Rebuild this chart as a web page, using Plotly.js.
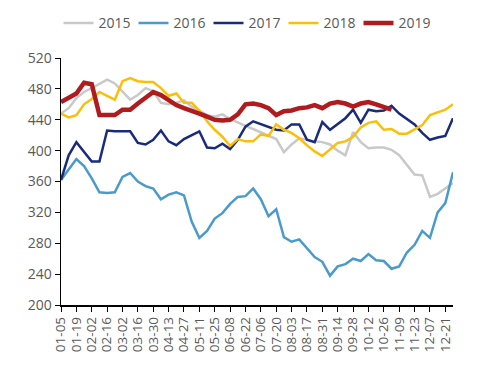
<!DOCTYPE html>
<html>
<head>
<meta charset="utf-8">
<script src="https://cdn.plot.ly/plotly-3.0.1.min.js"></script>
<style>html,body{margin:0;padding:0;background:#fff;}#chart{width:492px;height:368px;}</style>
</head>
<body>
<div id="chart"></div>
<script>
// Weekly dates (MM-DD)
var weeks = ["01-05","01-12","01-19","01-26","02-02","02-09","02-16","02-23","03-02","03-09",
  "03-16","03-23","03-30","04-06","04-13","04-20","04-27","05-04","05-11","05-18",
  "05-25","06-01","06-08","06-15","06-22","06-29","07-06","07-13","07-20","07-27",
  "08-03","08-10","08-17","08-24","08-31","09-07","09-14","09-21","09-28","10-05",
  "10-12","10-19","10-26","11-02","11-09","11-16","11-23","11-30","12-07","12-14",
  "12-21","12-28"];
var tickLabels = ["01-05","01-19","02-02","02-16","03-02","03-16","03-30","04-13","04-27","05-11",
  "05-25","06-08","06-22","07-06","07-20","08-03","08-17","08-31","09-14","09-28",
  "10-12","10-26","11-09","11-23","12-07","12-21"];
var yTicks = [200,240,280,320,360,400,440,480,520];

var s2015 = [448,455,468,476,481,486,492,487,476,466,472,481,477,462,460,462,465,457,452,446,
  444,447,441,436,432,428,424,420,415,398,408,416,414,412,411,408,400,394,424,411,
  403,404,404,401,394,381,369,368,340,344,351,358];
var s2016 = [362,376,389,380,364,346,345,346,366,371,360,354,351,337,343,346,342,308,287,296,
  312,319,331,340,341,351,337,315,324,288,282,285,274,262,256,238,250,253,260,257,
  266,258,257,247,250,268,278,296,287,320,332,372];
var s2017 = [362,394,411,399,386,386,426,425,425,425,410,408,414,426,412,407,415,420,425,404,
  403,409,402,414,431,438,434,430,427,426,434,434,414,411,437,427,435,442,453,436,
  453,451,452,458,448,441,434,423,414,417,419,442];
var s2018 = [448,443,446,460,467,476,471,466,490,494,490,489,489,481,471,474,462,462,452,438,
  427,418,406,415,412,412,421,419,434,427,423,416,407,399,393,402,410,412,418,430,
  436,438,427,428,422,422,427,433,446,450,453,460];
var s2019 = [463,468,474,488,486,446,446,446,453,453,461,469,476,472,465,459,455,452,448,444,
  440,439,440,447,460,461,459,455,446,451,452,455,456,459,455,461,463,461,457,461,
  463,460,457,453];

var seriesNames = ["2015","2016","2017","2018","2019"];
var seriesData = [s2015,s2016,s2017,s2018,s2019];
var colors = ["#c9c9c9","#4a9bcc","#1a2b7c","#fbbf0a","#b01c1e"];
var widths = [2.5,2.5,2.5,2.5,4.5];

var traces = seriesNames.map(function(n,k){
  return {
    type:"scatter", mode:"lines", name:n,
    x: weeks.slice(0, seriesData[k].length), y: seriesData[k],
    line:{color:colors[k], width:widths[k]},
    hoverinfo:"skip"
  };
});

var font = {family:"Open Sans, Noto Sans, sans-serif", color:"#595959", size:14};

var layout = {
  width:492, height:368,
  margin:{l:61, r:39, t:58, b:63, pad:0},
  paper_bgcolor:"#ffffff", plot_bgcolor:"#ffffff",
  font:font,
  showlegend:true,
  legend:{orientation:"h", x:0.5, xref:"container", xanchor:"center", y:0.98, yref:"container", yanchor:"top",
    font:{family:font.family, color:"#595959", size:14}, entrywidth:30, entrywidthmode:"pixels",
    bgcolor:"rgba(0,0,0,0)"},
  xaxis:{
    type:"category", categoryorder:"array", categoryarray:weeks,
    range:[0, weeks.length-1],
    tickmode:"array", tickvals:tickLabels, ticktext:tickLabels,
    tickangle:-90, ticks:"outside", ticklen:5, tickcolor:"#000", tickwidth:1,
    showline:true, linecolor:"#000", linewidth:1.5,
    showgrid:false, zeroline:false,
    tickfont:{family:font.family, color:"#595959", size:13.5}
  },
  yaxis:{
    range:[200,520], tickmode:"array", tickvals:yTicks,
    ticks:"outside", ticklen:5, tickcolor:"#000", tickwidth:1,
    showline:true, linecolor:"#000", linewidth:1.5,
    showgrid:false, zeroline:false,
    tickfont:{family:font.family, color:"#595959", size:14}
  }
};

Plotly.newPlot("chart", traces, layout, {staticPlot:true, displayModeBar:false});
</script>
</body>
</html>
